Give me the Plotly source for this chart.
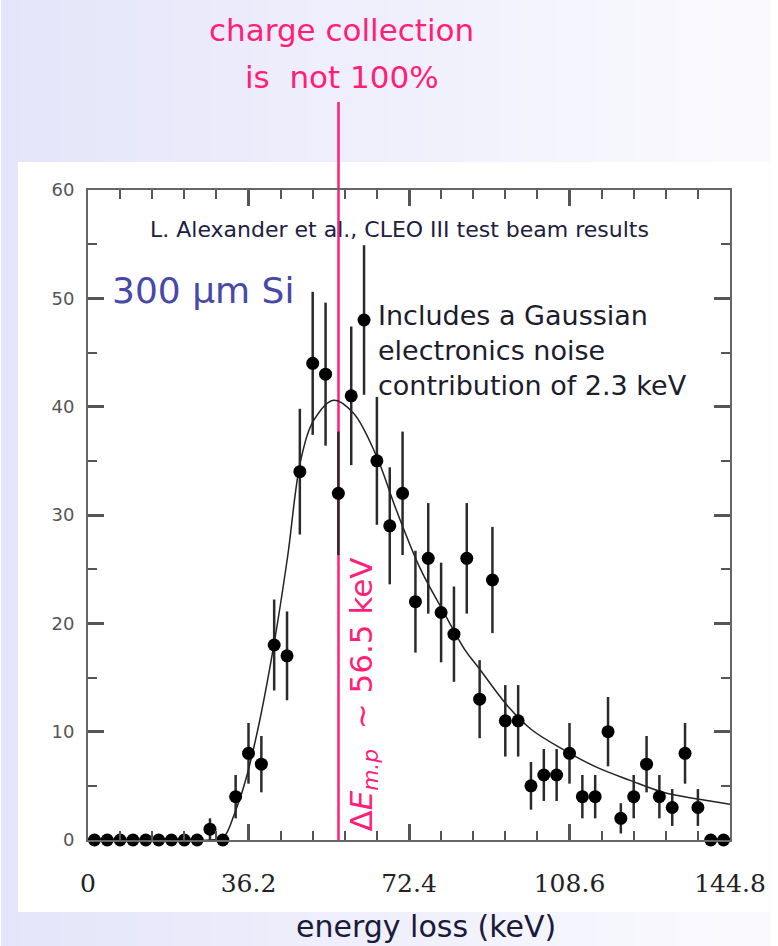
import plotly.graph_objects as go

# Energy-loss histogram: 50 bins of 2.896 keV between 0 and 144.8 keV
BIN_CENTERS = [
    1.45, 4.34, 7.24, 10.14, 13.03, 15.93, 18.82, 21.72, 24.62, 27.51,
    30.41, 33.30, 36.20, 39.10, 41.99, 44.89, 47.78, 50.68, 53.58, 56.47,
    59.37, 62.26, 65.16, 68.06, 70.95, 73.85, 76.74, 79.64, 82.54, 85.43,
    88.33, 91.22, 94.12, 97.02, 99.91, 102.81, 105.70, 108.60, 111.50, 114.39,
    117.29, 120.18, 123.08, 125.98, 128.87, 131.77, 134.66, 137.56, 140.46, 143.35,
]
COUNTS = [
    0, 0, 0, 0, 0, 0, 0, 0, 0, 1,
    0, 4, 8, 7, 18, 17, 34, 44, 43, 32,
    41, 48, 35, 29, 32, 22, 26, 21, 19, 26,
    13, 24, 11, 11, 5, 6, 6, 8, 4, 4,
    10, 2, 4, 7, 4, 3, 8, 3, 0, 0,
]
COUNT_ERRORS = [
    0, 0, 0, 0, 0, 0, 0, 0, 0, 1.0,
    0, 2.0, 2.8, 2.6, 4.2, 4.1, 5.8, 6.6, 6.6, 5.7,
    6.4, 6.9, 5.9, 5.4, 5.7, 4.7, 5.1, 4.6, 4.4, 5.1,
    3.6, 4.9, 3.3, 3.3, 2.2, 2.4, 2.4, 2.8, 2.0, 2.0,
    3.2, 1.4, 2.0, 2.6, 2.0, 1.7, 2.8, 1.7, 0, 0,
]

# Landau (x) Gaussian fit curve, sampled points
FIT_X = [0.0, 20.0, 27.5, 30.5, 33.1, 35.4, 38.3, 42.0, 45.0, 48.0, 51.0, 55.4,
         59.9, 65.1, 69.5, 75.0, 80.0, 85.1, 88.1, 94.8, 100.0, 107.4, 114.8,
         122.3, 129.7, 137.1, 144.8]
FIT_Y = [0.0, 0.0, 0.0, 0.2, 2.5, 5.3, 10.2, 18.2, 26.1, 35.1, 38.8, 40.6,
         39.4, 35.4, 30.5, 25.0, 21.2, 17.5, 15.9, 12.3, 10.2, 8.3, 6.7,
         5.5, 4.4, 3.8, 3.3]

X_TICKS = [0, 36.2, 72.4, 108.6, 144.8]
X_TICK_TEXT = ["0", "36.2", "72.4", "108.6", "144.8"]
Y_TICKS = [0, 10, 20, 30, 40, 50, 60]
X_MAX = 144.8
Y_MAX = 60
MPV_KEV = 56.5  # most probable energy loss

PINK = "#ff1f78"
W, H = 778, 946
ML, MR, MT, MB = 88, 40, 190, 106
PW, PH = W - ML - MR, H - MT - MB


def px(X):
    """page pixel column -> paper x"""
    return (X - ML) / PW


def py(Y):
    """page pixel row -> paper y"""
    return (H - MB - Y) / PH


fig = go.Figure()

fig.add_trace(go.Scatter(
    x=FIT_X, y=FIT_Y, mode="lines",
    line=dict(color="#222222", width=1.5, shape="spline", smoothing=1.0),
    hoverinfo="skip", showlegend=False,
))

fig.add_trace(go.Scatter(
    x=BIN_CENTERS, y=COUNTS, mode="markers",
    marker=dict(color="black", size=13),
    error_y=dict(type="data", array=COUNT_ERRORS, visible=True,
                 color="#2a2a2a", thickness=2.5, width=0),
    cliponaxis=False, showlegend=False,
))

# slide background: soft lavender gradient, then the white figure panel
shapes = []
n_strips = 40
c0, c1 = (229, 229, 250), (250, 250, 254)
for k in range(n_strips):
    t = k / (n_strips - 1)
    col = "rgb(%d,%d,%d)" % tuple(round(a + (b - a) * t) for a, b in zip(c0, c1))
    shapes.append(dict(type="rect", xref="paper", yref="paper", layer="below",
                       x0=px(k * W / n_strips), x1=px((k + 1) * W / n_strips + 1),
                       y0=py(H), y1=py(0), line=dict(width=0), fillcolor=col))
shapes.append(dict(type="rect", xref="paper", yref="paper", layer="below",
                   x0=px(17), x1=px(W), y0=py(912), y1=py(162),
                   line=dict(width=0), fillcolor="white"))
# most-probable-value marker line, running up to the heading
shapes.append(dict(type="line", xref="x", yref="paper", layer="below",
                   x0=MPV_KEV, x1=MPV_KEV, y0=0, y1=py(102),
                   line=dict(color=PINK, width=2.5)))

annotations = [
    dict(text="charge collection", x=px(345), y=py(30), xref="paper", yref="paper",
         showarrow=False, xanchor="center", yanchor="middle",
         font=dict(family="DejaVu Sans", size=31, color=PINK)),
    dict(text="is\u00a0 not 100%", x=px(345), y=py(77), xref="paper", yref="paper",
         showarrow=False, xanchor="center", yanchor="middle",
         font=dict(family="DejaVu Sans", size=31, color=PINK)),
    dict(text="L. Alexander et al., CLEO III test beam results",
         x=px(403), y=py(229), xref="paper", yref="paper",
         showarrow=False, xanchor="center", yanchor="middle",
         font=dict(family="DejaVu Sans", size=22, color="#1c2040")),
    dict(text="300 \u03bcm Si", x=px(110), y=py(290), xref="paper", yref="paper",
         showarrow=False, xanchor="left", yanchor="middle",
         font=dict(family="DejaVu Sans", size=36, color="#4848a8")),
    dict(text="Includes a Gaussian<br>electronics noise<br>contribution of 2.3 keV",
         x=px(380), y=py(350), xref="paper", yref="paper",
         showarrow=False, xanchor="left", yanchor="middle", align="left",
         font=dict(family="DejaVu Sans", size=27, color="#1c1c2c")),
    dict(text="\u0394<i>E</i><sub><i>m.p</i></sub>  ~ 56.5 keV",
         x=px(366), y=py(695), xref="paper", yref="paper", textangle=-90,
         showarrow=False, xanchor="center", yanchor="middle",
         font=dict(family="DejaVu Sans", size=31, color=PINK)),
    dict(text="energy loss (keV)", x=px(430), y=py(927), xref="paper", yref="paper",
         showarrow=False, xanchor="center", yanchor="middle",
         font=dict(family="DejaVu Sans", size=30, color="#1a1a3a")),
]

x_minor = [round(7.24 * k, 2) for k in range(1, 20) if k % 5]
y_minor = [5, 15, 25, 35, 45, 55]

axis_common = dict(showline=True, linecolor="#666666", linewidth=2,
                   mirror="ticks", ticks="inside", ticklen=16, tickwidth=2.5,
                   tickcolor="#555555", showgrid=False, zeroline=False)

fig.update_layout(
    width=W, height=H, autosize=False,
    margin=dict(l=ML, r=MR, t=MT, b=MB),
    paper_bgcolor="white", plot_bgcolor="rgba(0,0,0,0)",
    shapes=shapes, annotations=annotations,
    xaxis=dict(range=[0, X_MAX], tickmode="array", tickvals=X_TICKS,
               ticktext=X_TICK_TEXT, ticklabelstandoff=20,
               tickfont=dict(family="DejaVu Serif", size=25, color="#222222"),
               minor=dict(tickvals=x_minor, ticks="inside", ticklen=9,
                          tickwidth=1.5, tickcolor="#555555"),
               **axis_common),
    yaxis=dict(range=[0, Y_MAX], tickmode="array", tickvals=Y_TICKS,
               ticklabelstandoff=8,
               tickfont=dict(family="DejaVu Sans", size=18, color="#555555"),
               minor=dict(tickvals=y_minor, ticks="inside", ticklen=9,
                          tickwidth=1.5, tickcolor="#555555"),
               **axis_common),
)

fig.write_html("out.html")
